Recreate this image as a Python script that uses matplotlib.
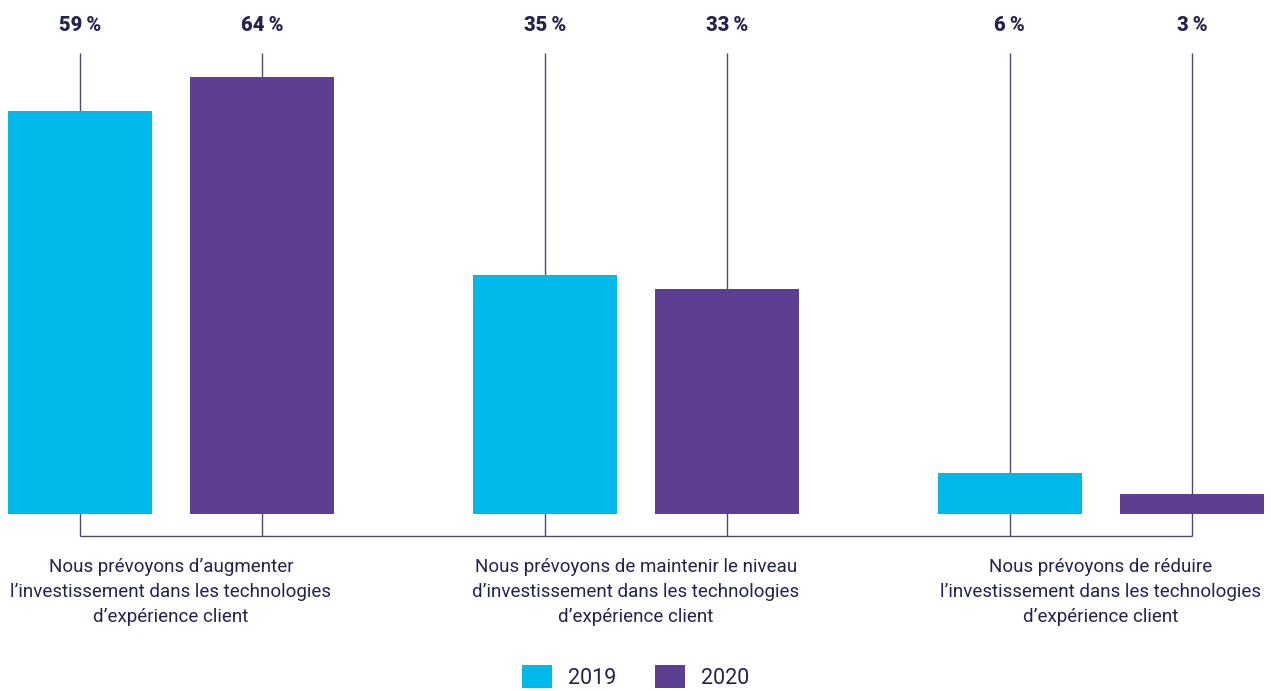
import numpy as np
import matplotlib.pyplot as plt

plt.rcParams['font.family'] = ['Roboto', 'DejaVu Sans']

# Données
categories = [
    "Nous prévoyons d’augmenter\nl’investissement dans les technologies\nd’expérience client",
    "Nous prévoyons de maintenir le niveau\nd’investissement dans les technologies\nd’expérience client",
    "Nous prévoyons de réduire\nl’investissement dans les technologies\nd’expérience client",
]
annees = ['2019', '2020']
valeurs_2019 = [59, 35, 6]
valeurs_2020 = [64, 33, 3]

cyan = '#00B9EA'
violet = '#5C3F91'
texte = '#23234F'
trait = '#4A4A72'

fig = plt.figure(figsize=(12.71, 6.91), dpi=100)
ax = fig.add_axes([0, 0, 1, 1])

x = np.arange(len(categories))
largeur = 0.31
decalage = 0.196

pos_2019 = x - decalage
pos_2020 = x + decalage

ax.bar(pos_2019, valeurs_2019, width=largeur, color=cyan, zorder=3, label=annees[0])
ax.bar(pos_2020, valeurs_2020, width=largeur, color=violet, zorder=3, label=annees[1])

# Traits verticaux et ligne de base
haut_trait = 67.5
bas_trait = -3.2
toutes_pos = np.concatenate([pos_2019, pos_2020])
toutes_val = valeurs_2019 + valeurs_2020
ax.vlines(toutes_pos, bas_trait, haut_trait, color=trait, linewidth=1, zorder=1)
ax.hlines(bas_trait, toutes_pos.min(), toutes_pos.max(), color=trait, linewidth=1, zorder=1)

for p, v in zip(toutes_pos, toutes_val):
    ax.text(p, 71.6, f'{v}\u2009%', ha='center', va='center', fontsize=14.5,
            fontweight='black', color=texte)

for xi, cat in zip(x, categories):
    ax.text(xi, -11.4, cat, ha='center', va='center', fontsize=13.5,
            color=texte, linespacing=1.48)

ax.set_xlim(-0.3677, 2.3656)
ax.set_ylim(-25.9, 75.26)
ax.axis('off')

fig.legend(loc='lower center', bbox_to_anchor=(0.5, -0.025), ncol=2, frameon=False,
           fontsize=15.5, handlelength=1.4, handleheight=1.3, handletextpad=0.75,
           columnspacing=1.77, labelcolor=texte)

plt.savefig('out.png', dpi=100)
